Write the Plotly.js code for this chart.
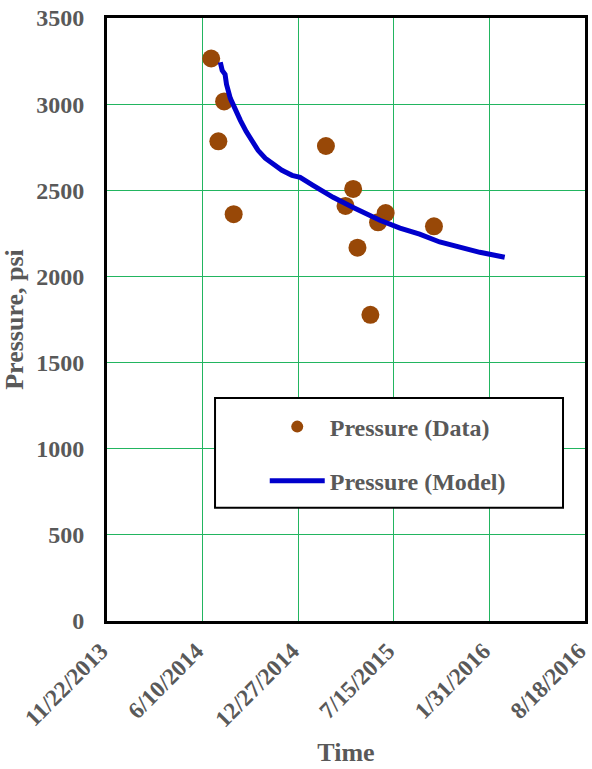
<!DOCTYPE html>
<html>
<head>
<meta charset="utf-8">
<script src="https://cdn.plot.ly/plotly-3.0.1.min.js"></script>
<style>html,body{margin:0;padding:0;background:#fff;}#chart{width:592px;height:769px;}</style>
</head>
<body>
<div id="chart"></div>
<script>
const dataDates = ['2014-06-28','2014-07-25','2014-07-13','2014-08-14','2015-02-23','2015-04-21','2015-04-05','2015-06-28','2015-06-12','2015-04-30','2015-05-27','2015-10-07'];
const dataPressure = [3265,3016,2784,2361,2757,2508,2409,2368,2314,2167,1777,2291];

const modelDates = ['2014-07-17','2014-07-21','2014-07-27','2014-07-30','2014-08-07','2014-08-17','2014-08-28','2014-09-09','2014-09-22','2014-10-04','2014-10-19','2014-11-05','2014-11-23','2014-12-14','2014-12-31','2015-01-27','2015-03-10','2015-04-20','2015-06-16','2015-07-28','2015-09-07','2015-10-19','2015-11-30','2016-01-11','2016-03-03'];
const modelPressure = [3243,3196,3173,3115,3034,2964,2906,2842,2784,2732,2686,2651,2616,2587,2575,2529,2459,2401,2326,2280,2245,2200,2169,2140,2111];

const xTickVals = ['2013-11-22','2014-06-10','2014-12-27','2015-07-15','2016-01-31','2016-08-18'];
const xTickText = ['11/22/2013','6/10/2014','12/27/2014','7/15/2015','1/31/2016','8/18/2016'];
const xRange = ['2013-11-22','2016-08-18'];
const yRange = [0,3500];

const font = {family:'"Liberation Serif", "Times New Roman", serif', color:'#595959', weight:'bold'};
const f = (s) => Object.assign({}, font, {size:s});

const traces = [
  {x:dataDates, y:dataPressure, type:'scatter', mode:'markers', name:'Pressure (Data)',
   legendgroup:'a', marker:{color:'#984807', size:18}},
  {x:modelDates, y:modelPressure, type:'scatter', mode:'lines', name:'Pressure (Model)',
   legendgroup:'b', line:{color:'#0000CC', width:5}}
];

const layout = {
  width:592, height:769,
  margin:{l:107, r:7, t:18, b:148},
  paper_bgcolor:'#fff', plot_bgcolor:'#fff',
  showlegend:true,
  legend:{x:0.33, y:0.359, xanchor:'left', yanchor:'top', bgcolor:'rgba(0,0,0,0)', borderwidth:0,
          font:f(24), itemwidth:55, traceorder:'grouped', tracegroupgap:20, itemsizing:'constant'},
  xaxis:{type:'date', range:xRange, tickmode:'array', tickvals:xTickVals, ticktext:xTickText,
         tickangle:-45, showgrid:true, gridcolor:'#22B560', gridwidth:1, ticklabeloverflow:'allow',
         showline:true, linecolor:'#000', linewidth:3, mirror:true, ticks:'', zeroline:false,
         tickfont:f(23.5), ticklabelstandoff:4, ticklabelshift:-6,
         title:{text:'Time', font:f(26), standoff:12}},
  yaxis:{range:yRange, dtick:500, showgrid:true, gridcolor:'#22B560', gridwidth:1,
         showline:true, linecolor:'#000', linewidth:3, mirror:true, ticks:'', zeroline:false,
         tickfont:f(24), ticklabelstandoff:15,
         title:{text:'Pressure, psi', font:f(26), standoff:6}},
  shapes:[{type:'rect', xref:'paper', yref:'paper', x0:0.226, x1:0.954, y0:0.188, y1:0.370,
           line:{color:'#000', width:2}, fillcolor:'#fff', layer:'above'}]
};

Plotly.newPlot('chart', traces, layout, {displayModeBar:false, staticPlot:true});
</script>
</body>
</html>
